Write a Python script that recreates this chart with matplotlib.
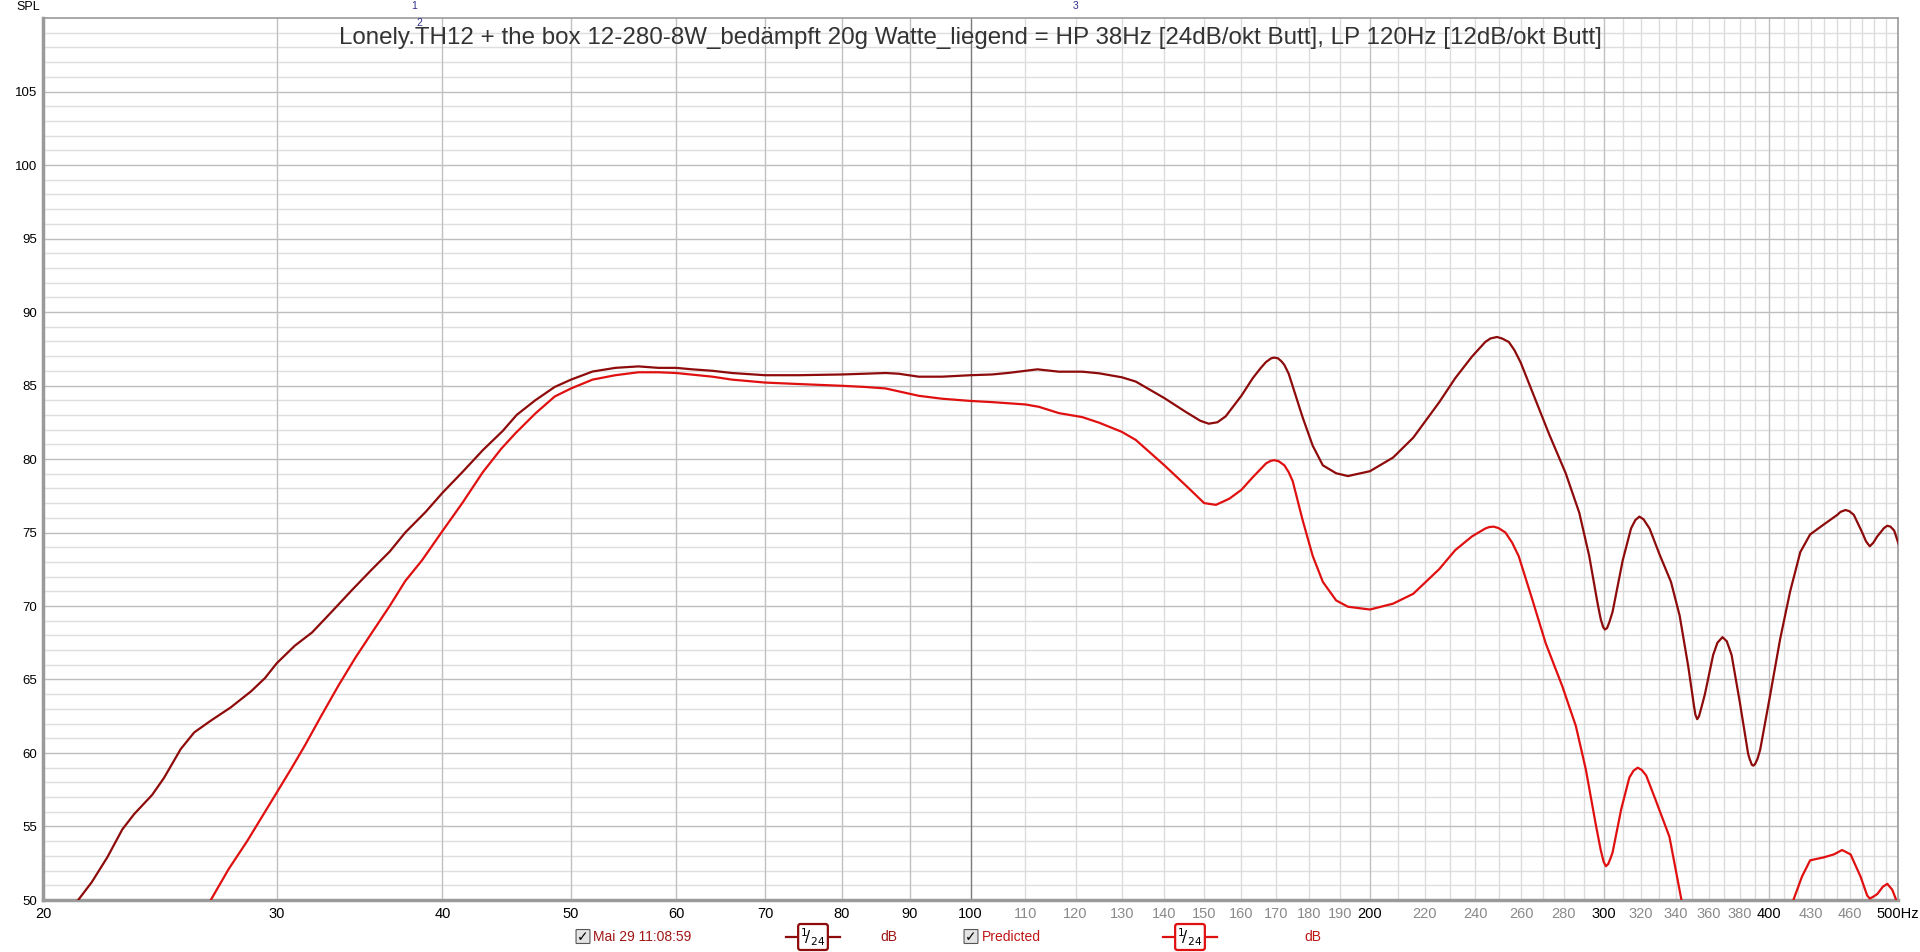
import numpy as np
import matplotlib
matplotlib.use("Agg")
import matplotlib.pyplot as plt
from matplotlib.patches import FancyBboxPatch
from matplotlib.lines import Line2D
from matplotlib.ticker import NullLocator
from matplotlib.transforms import ScaledTranslation

plt.rcParams['font.family'] = ['Liberation Sans Narrow', 'Liberation Sans', 'DejaVu Sans']

# Messung (dunkelrot)
meas_freq = [20.0, 21.26, 21.76, 22.36, 22.95, 23.43, 24.17, 24.67, 25.4, 26.0, 26.76, 27.7, 28.7,
             29.4, 30.0, 30.96, 31.9, 33.0, 34.2, 35.4, 36.5, 37.5, 38.85, 40.0, 41.4, 42.9, 44.4,
             45.5, 47.0, 48.6, 50.0, 51.9, 54.0, 56.2, 58.2, 60.0, 61.7, 63.9, 66.1, 70.0, 74.2,
             80.0, 83.3, 86.3, 88.3, 91.4, 95.2, 100.0, 103.8, 106.9, 112.3, 116.6, 121.4, 125.0,
             130.0, 133.2, 140.0, 145.3, 149.0, 151.2, 153.5, 155.7, 160.0, 163.2, 165.5, 167.0,
             168.5, 169.4, 170.5, 171.5, 172.4, 173.7, 174.9, 178.0, 181.1, 184.3, 188.6, 192.5,
             200.0, 208.2, 215.6, 225.5, 231.9, 238.7, 244.3, 246.5, 249.3, 251.5, 254.5, 257.0,
             259.8, 266.6, 272.9, 280.9, 287.6, 292.6, 296.9, 298.5, 299.8, 300.7, 301.8, 303.0,
             304.7, 310.1, 314.6, 317.0, 319.2, 321.5, 324.9, 330.6, 337.2, 342.3, 347.5, 350.8,
             351.8, 352.9, 354.0, 355.5, 357.6, 362.8, 365.5, 368.7, 371.5, 374.6, 380.0, 385.5,
             386.5, 388.0, 389.0, 390.2, 391.8, 393.6, 400.6, 407.5, 414.6, 422.0, 429.3, 439.5,
             450.0, 452.5, 456.4, 459.5, 463.1, 469.9, 473.0, 476.1, 479.0, 482.3, 488.0, 490.8,
             493.5, 496.7, 500.6]
meas_spl = [48.0, 50.0, 51.2, 52.9, 54.8, 55.85, 57.15, 58.3, 60.27, 61.4, 62.2, 63.1, 64.2,
            65.1, 66.1, 67.3, 68.2, 69.6, 71.1, 72.5, 73.7, 75.0, 76.4, 77.7, 79.1, 80.6, 81.9,
            83.0, 84.0, 84.9, 85.4, 85.95, 86.2, 86.3, 86.2, 86.2, 86.1, 86.0, 85.85, 85.7, 85.7,
            85.75, 85.8, 85.85, 85.8, 85.6, 85.6, 85.7, 85.75, 85.86, 86.1, 85.94, 85.94, 85.83,
            85.56, 85.27, 84.14, 83.2, 82.6, 82.4, 82.5, 82.9, 84.3, 85.5, 86.2, 86.6,
            86.85, 86.9, 86.85, 86.65, 86.4, 85.8, 84.95, 82.8, 80.9, 79.57, 79.03, 78.84,
            79.17, 80.1, 81.45, 83.85, 85.5, 86.96, 87.96, 88.2, 88.3, 88.2, 87.96, 87.4,
            86.56, 84.0, 81.7, 79.03, 76.34, 73.4, 70.16, 69.1, 68.55, 68.4, 68.5, 68.9,
            69.6, 73.1, 75.27, 75.85, 76.08, 75.9, 75.27, 73.5, 71.64, 69.35, 65.86, 63.3,
            62.6, 62.3, 62.5, 63.1, 63.98, 66.67, 67.5, 67.88, 67.6, 66.67, 63.44, 59.95,
            59.6, 59.2, 59.14, 59.25, 59.6, 60.2, 63.98, 67.74, 70.97, 73.66, 74.87, 75.54,
            76.2, 76.4, 76.53, 76.45, 76.2, 75.0, 74.4, 74.06, 74.3, 74.73, 75.3, 75.46,
            75.4, 75.13, 74.2]

# Simulation (rot)
pred_freq = [25.0, 26.76, 27.6, 28.5, 29.4, 30.0, 30.8, 31.5, 32.4, 33.4, 34.4, 35.4, 36.5, 37.5,
             38.6, 40.0, 41.4, 42.9, 44.3, 45.4, 47.0, 48.6, 50.0, 51.9, 54.0, 56.2, 58.2, 60.0,
             63.9, 66.1, 70.0, 74.2, 80.0, 83.3, 86.3, 88.3, 91.4, 95.2, 100.0, 103.8, 110.0,
             112.6, 116.6, 121.4, 125.0, 130.0, 133.2, 140.0, 145.3, 150.0, 153.1, 156.7, 160.0,
             163.2, 167.0, 168.3, 169.4, 170.7, 172.4, 173.7, 174.9, 178.0, 181.1, 184.3, 188.6,
             192.5, 200.0, 208.2, 215.6, 225.5, 231.9, 238.7, 244.3, 246.0, 247.9, 250.0, 253.0,
             256.0, 258.9, 265.1, 271.3, 279.3, 285.9, 290.9, 296.0, 298.5, 300.0, 301.2, 302.4,
             303.5, 304.7, 309.3, 313.7, 316.0, 318.3, 320.5, 323.0, 328.6, 336.3, 343.3, 350.0,
             380.0, 410.0, 417.0, 423.3, 429.3, 439.5, 447.3, 453.8, 460.5, 468.5, 474.0, 476.1,
             478.5, 482.3, 487.0, 490.8, 495.0, 498.0, 502.0]
pred_spl = [45.5, 50.0, 52.1, 54.0, 56.0, 57.3, 59.0, 60.5, 62.5, 64.6, 66.5, 68.2, 70.0, 71.7,
            73.1, 75.1, 77.0, 79.1, 80.7, 81.75, 83.1, 84.25, 84.8, 85.4, 85.7, 85.9, 85.9, 85.85,
            85.6, 85.4, 85.2, 85.1, 84.98, 84.9, 84.8, 84.6, 84.3, 84.1, 83.95, 83.87, 83.71,
            83.55, 83.12, 82.85, 82.47, 81.85, 81.3, 79.57, 78.2, 77.0, 76.88, 77.3, 77.9,
            78.76, 79.7, 79.87, 79.92, 79.85, 79.57, 79.1, 78.5, 75.8, 73.4, 71.64, 70.38,
            69.95, 69.76, 70.16, 70.83, 72.5, 73.8, 74.73, 75.27, 75.37, 75.4, 75.3, 75.0,
            74.3, 73.39, 70.43, 67.47, 64.52, 61.83, 58.87, 55.1, 53.4, 52.6, 52.3, 52.45,
            52.8, 53.23, 56.18, 58.33, 58.8, 59.0, 58.85, 58.47, 56.72, 54.3, 50.05, 46.0,
            40.0, 45.0, 50.0, 51.6, 52.7, 52.9, 53.1, 53.4, 53.1, 51.6, 50.3, 50.1,
            50.2, 50.4, 50.9, 51.1, 50.7, 50.1, 49.0]

tick_freqs = [20, 30, 40, 50, 60, 70, 80, 90, 100, 110, 120, 130, 140, 150, 160, 170, 180, 190,
              200, 220, 240, 260, 280, 300, 320, 340, 360, 380, 400, 430, 460, 500]
black_ticks = [20, 30, 40, 50, 60, 70, 80, 90, 100, 200, 300, 400, 500]
grid_major_x = [30, 40, 50, 60, 70, 80, 90, 200, 300, 400]
grid_minor_x = list(range(110, 200, 10)) + list(range(210, 300, 10)) + \
    list(range(310, 400, 10)) + list(range(410, 500, 10))
spl_ticks = [50, 55, 60, 65, 70, 75, 80, 85, 90, 95, 100, 105]

title = ("Lonely.TH12 + the box 12-280-8W_bedämpft 20g Watte_liegend = HP 38Hz "
         "[24dB/okt Butt], LP 120Hz [12dB/okt Butt]")

col_meas = '#8e0b0b'
col_pred = '#e01010'

fig = plt.figure(figsize=(19.2, 9.52), dpi=100)
ax = fig.add_axes([43 / 1920, 52 / 952, 1855 / 1920, 882 / 952])
ax.set_xscale('log')
ax.set_xlim(20, 500)
ax.set_ylim(50, 110)

# Raster
for y in range(51, 110):
    if y % 5 == 0:
        ax.axhline(y, color='#bdbdbd', lw=1.0, zorder=1)
    else:
        ax.axhline(y, color='#dedede', lw=1.0, zorder=0)
for f in grid_minor_x:
    ax.axvline(f, color='#dcdcdc', lw=1.0, zorder=0)
for f in grid_major_x:
    ax.axvline(f, color='#c0c0c0', lw=1.0, zorder=1)
ax.axvline(100, color='#7a7a7a', lw=1.0, zorder=1)

ax.plot(pred_freq, pred_spl, color=col_pred, lw=1.6, zorder=3)
ax.plot(meas_freq, meas_spl, color=col_meas, lw=1.6, zorder=4)

ax.xaxis.set_minor_locator(NullLocator())
ax.set_xticks(tick_freqs)
ax.set_xticklabels([str(f) if f != 500 else '500Hz' for f in tick_freqs])
for lab, f in zip(ax.get_xticklabels(), tick_freqs):
    lab.set_color('black' if f in black_ticks else '#8a8a8a')
    if f == 500:
        lab.set_transform(lab.get_transform() + ScaledTranslation(0.08, 0, fig.dpi_scale_trans))
ax.set_yticks(spl_ticks)
ax.set_yticklabels([str(v) for v in spl_ticks])
ax.tick_params(axis='x', length=0, pad=5, labelsize=10.5)
ax.tick_params(axis='y', length=0, pad=4, labelsize=9.5)

for s in ax.spines.values():
    s.set_color('#9a9a9a')
    s.set_linewidth(1.2)
ax.spines['left'].set_linewidth(2.5)
ax.spines['bottom'].set_linewidth(2.5)

ax.text(0.5, 0.99, title, transform=ax.transAxes, ha='center', va='top',
        fontsize=17.4, color='#333333', family=['Liberation Sans', 'DejaVu Sans'], zorder=6)

fig.text(16 / 1920, 1 - 7 / 952, 'SPL', fontsize=9, va='center', ha='left')

# Marker 1 2 3
fig.text(414 / 1920, 1 - 6 / 952, '1', fontsize=7.5, color='#303090', ha='center', va='center')
fig.text(419 / 1920, 1 - 23 / 952, '2', fontsize=7.5, color='#303090', ha='center', va='center')
fig.text(1076 / 1920, 1 - 6 / 952, '3', fontsize=7.5, color='#303090', ha='center', va='center')

# Legende unten
leg_y = 1 - 937 / 952
def checkbox(x):
    bx = FancyBboxPatch((x / 1920 - 5 / 1920, leg_y - 6 / 952), 12 / 1920, 13 / 952,
                        boxstyle='round,pad=0.0005', fc='#e4e4e4', ec='#555555', lw=0.8,
                        transform=fig.transFigure)
    fig.add_artist(bx)
    fig.text(x / 1920 + 1 / 1920, leg_y, '\u2713', fontsize=10, ha='center', va='center',
             color='black', family='DejaVu Sans')

def smooth_symbol(x, col):
    fig.add_artist(Line2D([(x - 27) / 1920, (x + 27) / 1920], [leg_y, leg_y],
                          color=col, lw=1.6, transform=fig.transFigure))
    fig.text(x / 1920, leg_y, r'$^1\!/_{24}$', fontsize=11, ha='center', va='center',
             color='black',
             bbox=dict(boxstyle='round,pad=0.15', fc='white', ec=col, lw=1.6))

checkbox(582)
fig.text(593 / 1920, leg_y, 'Mai 29 11:08:59', fontsize=10, color='#a01515', va='center')
smooth_symbol(813, col_meas)
fig.text(880 / 1920, leg_y, 'dB', fontsize=10, color='#a01515', va='center')
checkbox(970)
fig.text(982 / 1920, leg_y, 'Predicted', fontsize=10, color='#c01515', va='center')
smooth_symbol(1190, col_pred)
fig.text(1304 / 1920, leg_y, 'dB', fontsize=10, color='#c01515', va='center')

fig.savefig('out.png', dpi=100)
